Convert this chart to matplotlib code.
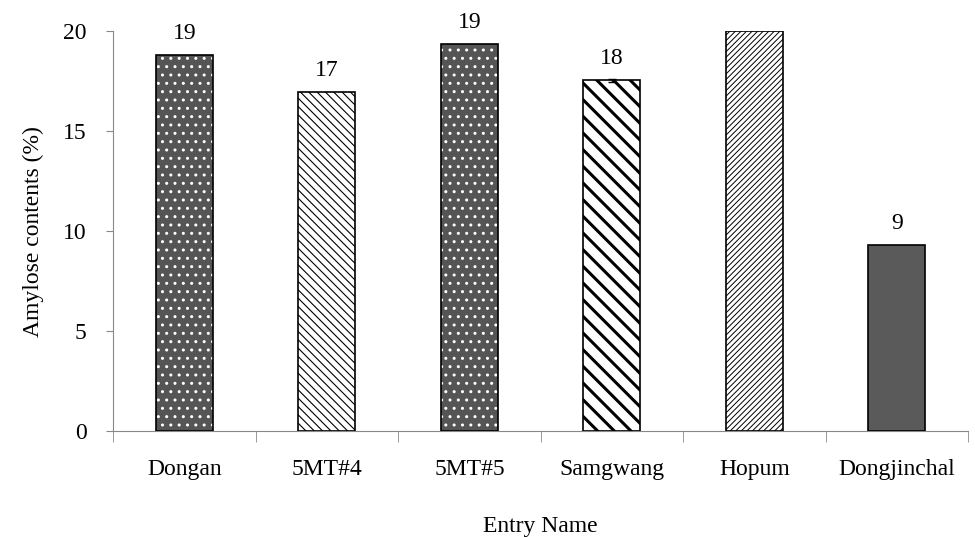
import numpy as np
import matplotlib
matplotlib.use('Agg')
import matplotlib.pyplot as plt
from matplotlib import rcParams

rcParams['font.family'] = 'Liberation Serif'
rcParams['font.size'] = 13

# data
entries = ['Dongan', '5MT#4', '5MT#5', 'Samgwang', 'Hopum', 'Dongjinchal']
amylose = [18.8, 16.95, 19.35, 17.55, 20.0, 9.3]
errors = [0.0, 0.0, 0.0, 0.08, 0.0, 0.0]
bar_labels = ['19', '17', '19', '18', '', '9']

# look of each bar: face, hatch, hatch colour, hatch width
styles = [
    ('#555555', '..', 'white', 1.0),
    ('white', '\\\\\\\\', 'black', 0.8),
    ('#555555', '..', 'white', 1.0),
    ('white', '\\\\', 'black', 2.2),
    ('white', '//////', 'black', 0.7),
    ('#5a5a5a', '', 'black', 1.0),
]

fig = plt.figure(figsize=(9.75, 5.37), dpi=100)
ax = fig.add_axes([0.116, 0.197, 0.877, 0.745])

x = np.arange(len(entries))
w = 0.4
for i, (face, hatch, hcol, hlw) in enumerate(styles):
    with plt.rc_context({'hatch.linewidth': hlw}):
        ax.bar(x[i], amylose[i], w, color=face, hatch=hatch, edgecolor=hcol, linewidth=0, zorder=2)
    ax.bar(x[i], amylose[i], w, fill=False, edgecolor='black', linewidth=1.2, zorder=3)

ax.errorbar(x[3:4], amylose[3:4], yerr=errors[3:4], fmt='none', ecolor='black',
            elinewidth=1, capsize=3, zorder=4)

for i, lab in enumerate(bar_labels):
    if lab:
        ax.text(x[i], amylose[i] + 0.55, lab, ha='center', va='bottom', fontsize=17)

ax.set_xlim(-0.5, len(entries) - 0.5)
ax.set_ylim(0, 20)
ax.set_yticks([0, 5, 10, 15, 20])
ax.set_xticks(x)
ax.set_xticklabels(entries, fontsize=17)
ax.tick_params(axis='y', labelsize=17, length=5, color='#888888', pad=14)
ax.tick_params(axis='x', length=0, pad=20)
ax.set_xticks(np.arange(len(entries) + 1) - 0.5, minor=True)
ax.tick_params(axis='x', which='minor', length=8, color='#888888')

for s in ['top', 'right']:
    ax.spines[s].set_visible(False)
for s in ['left', 'bottom']:
    ax.spines[s].set_color('#888888')

ax.set_ylabel('Amylose contents (%)', fontsize=17, labelpad=14)
ax.set_xlabel('Entry Name', fontsize=17, labelpad=26)

fig.savefig('out.png', dpi=100)
